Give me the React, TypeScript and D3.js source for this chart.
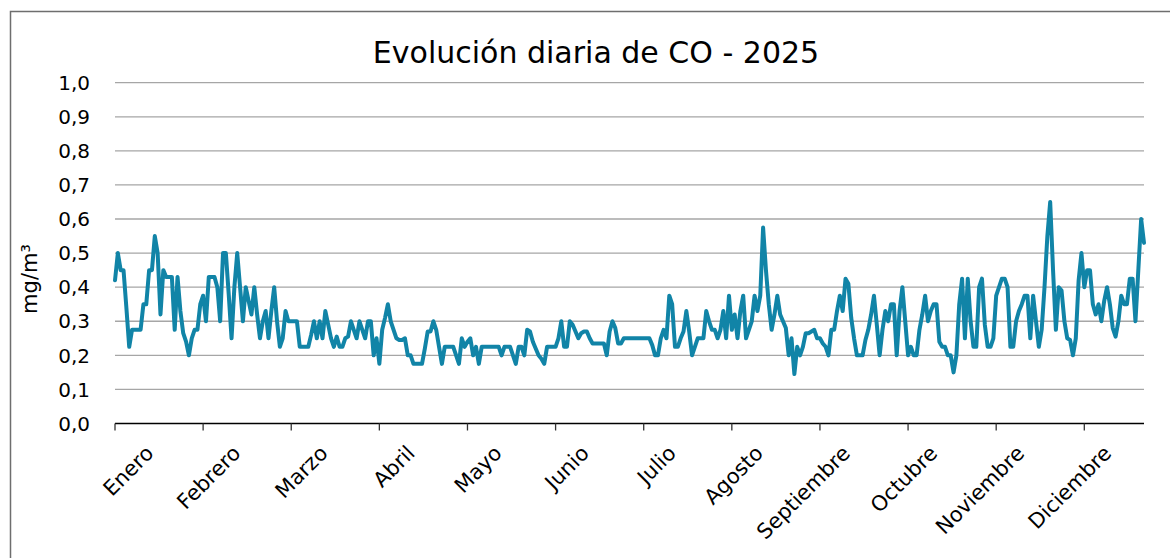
import React, { useEffect, useRef } from "react";
import * as d3 from "d3";

const months = [
  "Enero", "Febrero", "Marzo", "Abril", "Mayo", "Junio",
  "Julio", "Agosto", "Septiembre", "Octubre", "Noviembre", "Diciembre",
];

const yTicks = [0, 0.1, 0.2, 0.3, 0.4, 0.5, 0.6, 0.7, 0.8, 0.9, 1.0];

// concentración diaria de CO (mg/m³)
const coJan = [
  0.42, 0.5, 0.45, 0.45, 0.34, 0.225, 0.275, 0.275, 0.275, 0.275, 0.35, 0.35, 0.45, 0.45, 0.55, 0.5,
  0.32, 0.45, 0.43, 0.43, 0.43, 0.275, 0.43, 0.33, 0.265, 0.24, 0.2, 0.25, 0.275, 0.275, 0.35,
];
const coFeb = [
  0.375, 0.3, 0.43, 0.43, 0.43, 0.4, 0.3, 0.5, 0.5, 0.38, 0.25, 0.4, 0.5, 0.4, 0.3, 0.4,
  0.36, 0.32, 0.4, 0.32, 0.25, 0.3, 0.33, 0.25, 0.33, 0.4, 0.3, 0.225, 0.25, 0.33, 0.3,
];
const coMar = [
  0.3, 0.3, 0.3, 0.225, 0.225, 0.225, 0.225, 0.26, 0.3, 0.25, 0.3, 0.25, 0.33, 0.29, 0.25, 0.225,
  0.255, 0.225, 0.225, 0.25, 0.255, 0.3, 0.275, 0.25, 0.3, 0.275, 0.25, 0.3, 0.3, 0.2, 0.25,
];
const coApr = [
  0.175, 0.275, 0.31, 0.35, 0.3, 0.275, 0.25, 0.245, 0.245, 0.25, 0.2, 0.2, 0.175, 0.175, 0.175, 0.175,
  0.22, 0.27, 0.27, 0.3, 0.275, 0.225, 0.175, 0.225, 0.225, 0.225, 0.225, 0.2, 0.175, 0.25, 0.225,
];
const coMay = [
  0.24, 0.25, 0.2, 0.225, 0.175, 0.225, 0.225, 0.225, 0.225, 0.225, 0.225, 0.225, 0.2, 0.225, 0.225, 0.225,
  0.2, 0.175, 0.225, 0.225, 0.2, 0.275, 0.27, 0.24, 0.22, 0.2, 0.19, 0.175, 0.225, 0.225, 0.225,
];
const coJun = [
  0.225, 0.25, 0.3, 0.225, 0.225, 0.3, 0.29, 0.27, 0.25, 0.265, 0.27, 0.27, 0.25, 0.235, 0.235, 0.235,
  0.235, 0.235, 0.2, 0.27, 0.3, 0.28, 0.235, 0.235, 0.25, 0.25, 0.25, 0.25, 0.25, 0.25, 0.25,
];
const coJul = [
  0.25, 0.25, 0.25, 0.23, 0.2, 0.2, 0.25, 0.275, 0.25, 0.375, 0.35, 0.225, 0.225, 0.25, 0.27, 0.33,
  0.27, 0.2, 0.225, 0.25, 0.25, 0.25, 0.33, 0.3, 0.275, 0.275, 0.25, 0.275, 0.33, 0.25, 0.375,
];
const coAug = [
  0.275, 0.32, 0.25, 0.33, 0.375, 0.25, 0.275, 0.3, 0.375, 0.33, 0.375, 0.575, 0.45, 0.35, 0.275, 0.32,
  0.375, 0.32, 0.3, 0.28, 0.2, 0.25, 0.145, 0.225, 0.2, 0.225, 0.265, 0.265, 0.27, 0.275, 0.25,
];
const coSep = [
  0.25, 0.235, 0.225, 0.2, 0.275, 0.275, 0.33, 0.375, 0.33, 0.425, 0.41, 0.31, 0.25, 0.2, 0.2, 0.2,
  0.245, 0.275, 0.32, 0.375, 0.29, 0.2, 0.275, 0.33, 0.3, 0.35, 0.35, 0.2, 0.33, 0.4, 0.3,
];
const coOct = [
  0.2, 0.225, 0.2, 0.2, 0.275, 0.32, 0.375, 0.3, 0.33, 0.35, 0.35, 0.24, 0.225, 0.225, 0.2, 0.2,
  0.15, 0.2, 0.35, 0.425, 0.25, 0.425, 0.3, 0.225, 0.225, 0.4, 0.425, 0.29, 0.225, 0.225, 0.25,
];
const coNov = [
  0.375, 0.4, 0.425, 0.425, 0.4, 0.225, 0.225, 0.3, 0.33, 0.35, 0.375, 0.375, 0.25, 0.375, 0.3, 0.225,
  0.275, 0.4, 0.55, 0.65, 0.45, 0.275, 0.4, 0.39, 0.3, 0.25, 0.245, 0.2, 0.25, 0.42, 0.5,
];
const coDec = [
  0.4, 0.45, 0.45, 0.35, 0.32, 0.35, 0.3, 0.36, 0.4, 0.35, 0.28, 0.255, 0.3, 0.375, 0.35, 0.35,
  0.425, 0.425, 0.3, 0.45, 0.6, 0.53,
];

const coValues = [
  ...coJan, ...coFeb, ...coMar, ...coApr, ...coMay, ...coJun,
  ...coJul, ...coAug, ...coSep, ...coOct, ...coNov, ...coDec,
];

const TICK_EVERY = 31;
const FONT = "'DejaVu Sans', 'Open Sans', sans-serif";

export default function App() {
  const ref = useRef<SVGSVGElement>(null);

  useEffect(() => {
    const svg = d3.select(ref.current);
    svg.selectAll("*").remove();

    const width = 1170;
    const height = 558;
    const left = 115;
    const right = 1144;
    const top = 82.7;
    const bottom = 423.5;

    svg.attr("width", width).attr("height", height);

    svg.append("rect")
      .attr("x", 10.5)
      .attr("y", 11.5)
      .attr("width", width + 20)
      .attr("height", height + 20)
      .attr("fill", "#fff")
      .attr("stroke", "#6e6e6e")
      .attr("stroke-width", 1.5);

    const x = d3.scaleLinear().domain([0, coValues.length - 1]).range([left, right]);
    const y = d3.scaleLinear().domain([0, 1]).range([bottom, top]);

    const locale = d3.formatLocale({ decimal: ",", thousands: ".", grouping: [3], currency: ["", "€"] });
    const fmt = locale.format(".1f");

    // gridlines
    svg.append("g")
      .selectAll("line")
      .data(yTicks.slice(1))
      .enter()
      .append("line")
      .attr("x1", left)
      .attr("x2", right)
      .attr("y1", (d) => y(d))
      .attr("y2", (d) => y(d))
      .attr("stroke", "#a6a6a6")
      .attr("stroke-width", 1.3);

    // y labels
    svg.append("g")
      .selectAll("text")
      .data(yTicks)
      .enter()
      .append("text")
      .attr("x", 90)
      .attr("y", (d) => y(d))
      .attr("dy", "0.36em")
      .attr("text-anchor", "end")
      .attr("font-family", FONT)
      .attr("font-size", 20)
      .attr("fill", "#000")
      .text((d) => fmt(d));

    // x axis
    const tickIdx = d3.range(0, coValues.length, TICK_EVERY);
    svg.append("line")
      .attr("x1", left)
      .attr("x2", right)
      .attr("y1", bottom)
      .attr("y2", bottom)
      .attr("stroke", "#000")
      .attr("stroke-width", 1.3);

    svg.append("g")
      .selectAll("line")
      .data(tickIdx)
      .enter()
      .append("line")
      .attr("x1", (d) => x(d))
      .attr("x2", (d) => x(d))
      .attr("y1", bottom)
      .attr("y2", bottom + 7)
      .attr("stroke", "#333")
      .attr("stroke-width", 1.3);

    const labelX = d3.scalePoint<string>().domain(months).range([x(14), x(351)]);
    svg.append("g")
      .selectAll("text")
      .data(months)
      .enter()
      .append("text")
      .attr("transform", (d) => `translate(${labelX(d)},${bottom + 31}) rotate(-45)`)
      .attr("text-anchor", "end")
      .attr("font-family", FONT)
      .attr("font-size", 21)
      .attr("fill", "#000")
      .text((d) => d);

    // line
    const line = d3.line<number>()
      .x((d, i) => x(i))
      .y((d) => y(d));

    svg.append("path")
      .datum(coValues)
      .attr("d", line)
      .attr("fill", "none")
      .attr("stroke", "#1184a7")
      .attr("stroke-width", 4)
      .attr("stroke-linejoin", "round")
      .attr("stroke-linecap", "round");

    // title
    svg.append("text")
      .attr("x", 596)
      .attr("y", 63)
      .attr("text-anchor", "middle")
      .attr("font-family", FONT)
      .attr("font-size", 30)
      .attr("fill", "#000")
      .text("Evolución diaria de CO - 2025");

    // y axis title
    svg.append("text")
      .attr("transform", `translate(37,279) rotate(-90)`)
      .attr("text-anchor", "middle")
      .attr("font-family", FONT)
      .attr("font-size", 21)
      .attr("fill", "#000")
      .text("mg/m³");
  }, []);

  return (
    <svg
      ref={ref}
      style={{ position: "fixed", left: 0, top: 0, display: "block", background: "#fff" }}
    />
  );
}
